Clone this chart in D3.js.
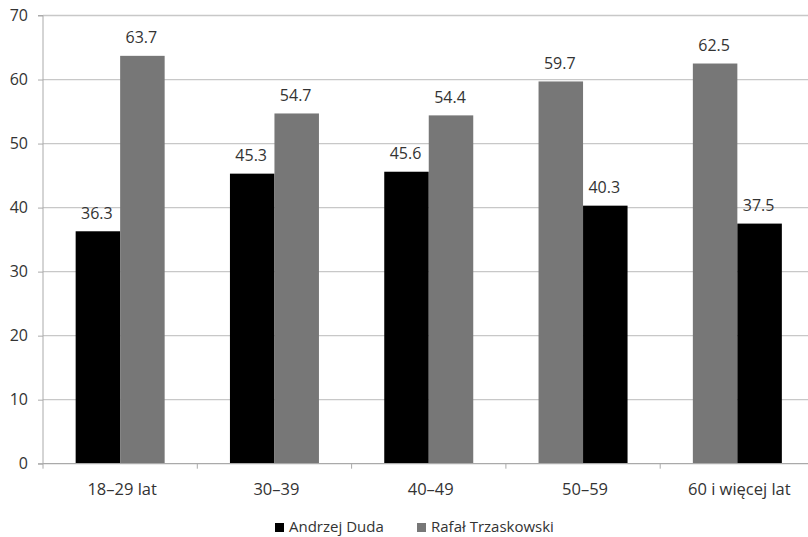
<!DOCTYPE html>
<html><head><meta charset="utf-8">
<script src="https://cdn.jsdelivr.net/npm/d3@7"></script>
<style>body{margin:0;background:#fff}svg{display:block}text{font-family:"Open Sans","Noto Sans",sans-serif;fill:#333}</style>
</head><body><svg id="c" width="808" height="537"></svg>
<script>
const categories = ["18–29 lat","30–39","40–49","50–59","60 i więcej lat"];
const seriesNames = ["Andrzej Duda","Rafał Trzaskowski"];
const duda = [36.3,45.3,45.6,40.3,37.5];
const trzaskowski = [63.7,54.7,54.4,59.7,62.5];
// order of bars within each group as in the reference
const groupOrder = [
  ["Andrzej Duda","Rafał Trzaskowski"],
  ["Andrzej Duda","Rafał Trzaskowski"],
  ["Andrzej Duda","Rafał Trzaskowski"],
  ["Rafał Trzaskowski","Andrzej Duda"],
  ["Rafał Trzaskowski","Andrzej Duda"]
];
const yTicks = [0,10,20,30,40,50,60,70];
const colors = {"Andrzej Duda":"#000000","Rafał Trzaskowski":"#777777"};
const values = {"Andrzej Duda":duda,"Rafał Trzaskowski":trzaskowski};

const svg = d3.select("#c");
const x0 = 43, x1 = 43 + 154.3*5, yTop = 15.5, yBot = 463.7;
const x = d3.scaleBand().domain(categories).range([x0,x1]).paddingInner(0).paddingOuter(0);
const y = d3.scaleLinear().domain([0,70]).range([yBot,yTop]);
const barW = 44.5;

// gridlines
svg.append("g").selectAll("line").data(yTicks.filter(d=>d>0)).join("line")
  .attr("x1",x0).attr("x2",808).attr("y1",d=>y(d)).attr("y2",d=>y(d))
  .attr("stroke","#c8c8c8").attr("stroke-width",1.3);

// y axis
const ya = svg.append("g").attr("transform",`translate(${x0},0)`).call(d3.axisLeft(y).tickValues(yTicks).tickSize(5).tickPadding(8));
ya.select(".domain").attr("stroke","#aaa").attr("d",`M-5,${yTop}H0V${yBot}H-5`);
ya.selectAll(".tick line").attr("stroke","#aaa");
ya.selectAll("text").style("font-size","16px").attr("fill","#333").attr("x",-15);

// bars
categories.forEach((c,i)=>{
  const center = x(c) + x.bandwidth()/2;
  groupOrder[i].forEach((s,j)=>{
    const v = values[s][i];
    const bx = center - barW + j*barW;
    svg.append("rect").attr("x",bx).attr("y",y(v)).attr("width",barW).attr("height",yBot-y(v)).attr("fill",colors[s]);
    svg.append("text").attr("x",bx+barW/2 - 1).attr("y",y(v)-12.5).attr("text-anchor","middle")
      .style("font-size","16px").text(v.toFixed(1));
  });
});

// x axis
const xa = svg.append("g").attr("transform",`translate(0,${yBot})`);
xa.append("line").attr("x1",x0).attr("x2",808).attr("stroke","#aaa").attr("stroke-width",1.3);
xa.selectAll(".t").data(d3.range(6)).join("line").attr("x1",d=>x0+d*x.bandwidth()).attr("x2",d=>x0+d*x.bandwidth())
  .attr("y1",0).attr("y2",5).attr("stroke","#aaa");
xa.selectAll("text").data(categories).join("text").attr("x",d=>x(d)+x.bandwidth()/2+2).attr("y",31)
  .attr("text-anchor","middle").style("font-size","16.5px").text(d=>d);

// legend
const lg = svg.append("g");
const legX = [275, 417];
seriesNames.forEach((s,i)=>{
  lg.append("rect").attr("x",legX[i]).attr("y",523).attr("width",9).attr("height",9).attr("fill",colors[s]);
  lg.append("text").attr("x",legX[i]+14).attr("y",532).style("font-size","15px").text(s);
});
</script></body></html>
